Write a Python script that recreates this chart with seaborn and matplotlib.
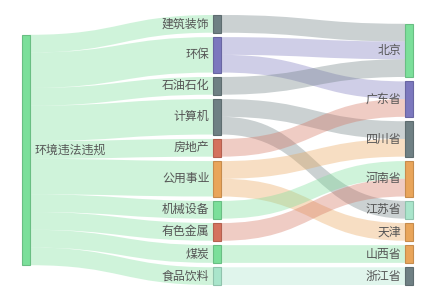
import numpy as np
import matplotlib
matplotlib.use("Agg")
import matplotlib.pyplot as plt
from matplotlib.path import Path
from matplotlib.patches import PathPatch, Rectangle
import seaborn as sns

sns.set_theme(style="white")
plt.rcParams['font.family'] = ['Noto Sans CJK SC', 'DejaVu Sans']

# ---- data ----
root = ["环境违法违规"]
industries = ["建筑装饰", "环保", "石油石化", "计算机", "房地产", "公用事业",
              "机械设备", "有色金属", "煤炭", "食品饮料"]
industry_values = [1, 2, 1, 2, 1, 2, 1, 1, 1, 1]
regions = ["北京", "广东省", "四川省", "河南省", "江苏省", "天津", "山西省", "浙江省"]
link_source = ["建筑装饰", "环保", "环保", "石油石化", "计算机", "计算机", "房地产",
               "公用事业", "公用事业", "机械设备", "有色金属", "煤炭", "食品饮料"]
link_target = ["北京", "北京", "广东省", "北京", "四川省", "江苏省", "广东省",
               "四川省", "天津", "河南省", "河南省", "山西省", "浙江省"]
link_value = [1, 1, 1, 1, 1, 1, 1, 1, 1, 1, 1, 1, 1]

palette = {"green": "#7bdf9a", "grey": "#6f8084", "purple": "#7c78be",
           "red": "#d4725e", "orange": "#e9a55a", "teal": "#a9e5cb"}
node_color = {
    "环境违法违规": "green",
    "建筑装饰": "grey", "环保": "purple", "石油石化": "grey", "计算机": "grey",
    "房地产": "red", "公用事业": "orange", "机械设备": "green", "有色金属": "red",
    "煤炭": "green", "食品饮料": "teal",
    "北京": "green", "广东省": "purple", "四川省": "grey", "河南省": "orange",
    "江苏省": "teal", "天津": "orange", "山西省": "orange", "浙江省": "grey",
}
colors = dict(zip(palette.keys(), sns.color_palette(list(palette.values()))))

# ---- build links ----
links = [(root[0], ind, v) for ind, v in zip(industries, industry_values)]
links += list(zip(link_source, link_target, link_value))

columns = [root, industries, regions]

W, H = 435, 300
left, right, top, bottom = 0.05 * W, 0.95 * W, 0.05 * H, 0.95 * H
node_w = 8
gap = 4.4

def node_value(n):
    out = sum(v for s, t, v in links if s == n)
    inc = sum(v for s, t, v in links if t == n)
    return max(out, inc)

max_n = max(len(c) for c in columns)
ky = min((bottom - top - (len(c) - 1) * gap) / sum(node_value(n) for n in c) for c in columns)

pos = {}
for ci, col in enumerate(columns):
    x = left + ci * (right - left - node_w) / (len(columns) - 1)
    total = sum(node_value(n) for n in col) * ky + (len(col) - 1) * gap
    if ci == 0:
        y = top + (bottom - top - total) / 2
    else:
        y = bottom - total
    for n in col:
        h = node_value(n) * ky
        pos[n] = [x, y, h]
        y += h + gap

fig = plt.figure(figsize=(W / 100, H / 100), dpi=100)
ax = fig.add_axes([0, 0, 1, 1])
ax.set_xlim(0, W)
ax.set_ylim(H, 0)
ax.axis("off")

out_off = {n: 0.0 for n in pos}
in_off = {n: 0.0 for n in pos}
sorted_links = sorted(links, key=lambda l: (pos[l[0]][1], pos[l[1]][1]))
link_geom = []
for s, t, v in sorted_links:
    link_geom.append([s, t, v, pos[s][1] + out_off[s], None])
    out_off[s] += v * ky
for lg in sorted(link_geom, key=lambda l: (pos[l[1]][1], pos[l[0]][1])):
    s, t, v = lg[0], lg[1], lg[2]
    lg[4] = pos[t][1] + in_off[t]
    in_off[t] += v * ky

for s, t, v, y0, y1 in link_geom:
    x0 = pos[s][0] + node_w
    x1 = pos[t][0]
    xm = (x0 + x1) / 2
    w = v * ky
    verts = [(x0, y0), (xm, y0), (xm, y1), (x1, y1),
             (x1, y1 + w), (xm, y1 + w), (xm, y0 + w), (x0, y0 + w), (x0, y0)]
    codes = [Path.MOVETO, Path.CURVE4, Path.CURVE4, Path.CURVE4,
             Path.LINETO, Path.CURVE4, Path.CURVE4, Path.CURVE4, Path.CLOSEPOLY]
    ax.add_patch(PathPatch(Path(verts, codes), facecolor=colors[node_color[s]],
                           edgecolor="none", alpha=0.36, zorder=1))

for ci, col in enumerate(columns):
    for n in col:
        x, y, h = pos[n]
        c = colors[node_color[n]]
        edge = tuple(np.array(c) * 0.85)
        ax.add_patch(Rectangle((x, y), node_w, h, facecolor=c, edgecolor=edge,
                               linewidth=0.8, zorder=3))
        if ci == 0:
            ax.text(x + node_w + 5, y + h / 2, n, ha="left", va="center",
                    fontsize=8.6, color="#555555", zorder=4)
        else:
            ax.text(x - 4, y + h / 2, n, ha="right", va="center",
                    fontsize=8.6, color="#555555", zorder=4)

fig.savefig("out.png", dpi=100)
